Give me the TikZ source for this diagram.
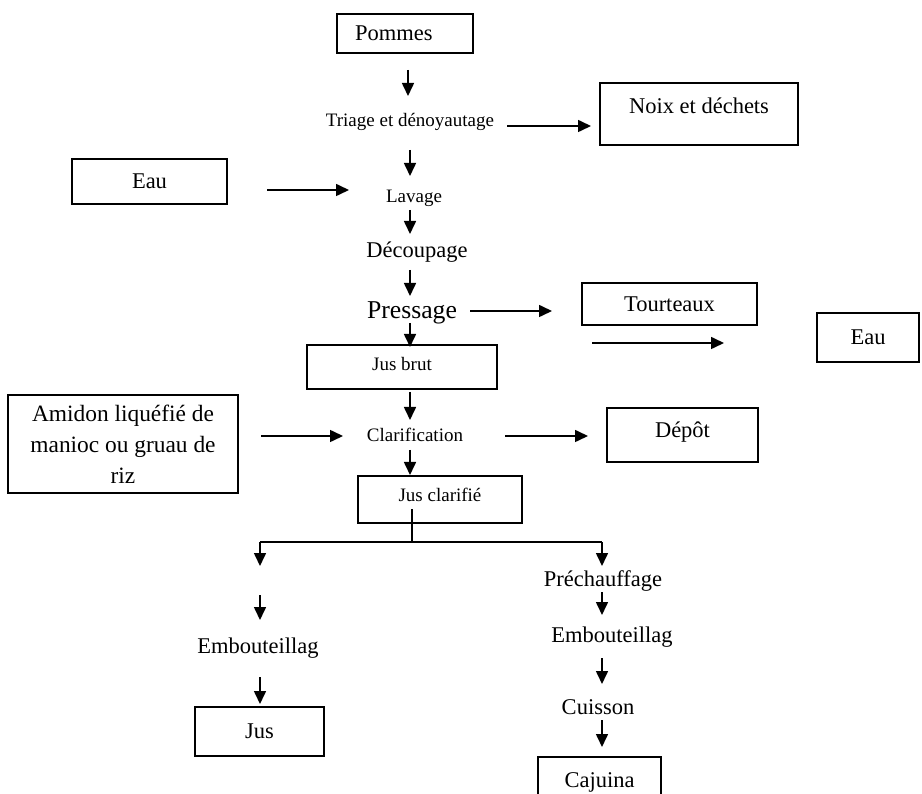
\documentclass[tikz,border=0pt]{standalone}
\usepackage{fontspec}
\setmainfont{Liberation Serif}
\usetikzlibrary{arrows.meta}
\newcommand{\fnorm}{\fontsize{22.5}{27}\selectfont}
\newcommand{\fsmall}{\fontsize{19}{22}\selectfont}
\newcommand{\fbig}{\fontsize{25.7}{30}\selectfont}
\tikzset{
  box/.style={draw=black, line width=1.3pt, inner sep=0pt, font=\fnorm},
  step txt/.style={inner sep=0pt, font=\fnorm},
  arr/.style={-{Triangle[length=13pt,width=12pt]}, line width=1.6pt},
  ln/.style={line width=1.5pt},
}
\begin{document}
\begin{tikzpicture}[x=1pt, y=-1pt]
\useasboundingbox (0,0) rectangle (922,794);
% boxes
\node[box, minimum width=136pt, minimum height=39pt, text width=100pt, align=left] (pommes) at (405,33.5) {Pommes};
\node[box, minimum width=198pt, minimum height=62pt, text depth=16pt] (noix) at (699,114) {Noix et déchets};
\node[box, minimum width=155pt, minimum height=45pt] (eauL) at (149.5,181.5) {Eau};
\node[box, minimum width=175pt, minimum height=42pt] (tourt) at (669.5,304) {Tourteaux};
\node[box, minimum width=102pt, minimum height=49pt] (eauR) at (868,337.5) {Eau};
\node[box, minimum width=190pt, minimum height=44pt, font=\fsmall, text depth=6pt] (jusbrut) at (402,367) {Jus brut};
\node[box, minimum width=230pt, minimum height=98pt, align=center, font=\fontsize{23.4}{31}\selectfont] (amidon) at (123,444) {Amidon liquéfié de\\manioc ou gruau de\\riz};
\node[box, minimum width=151pt, minimum height=54pt, text depth=10pt] (depot) at (682.5,435) {Dépôt};
\node[box, minimum width=164pt, minimum height=47pt, font=\fsmall, text depth=10pt] (jusclar) at (440,499.5) {Jus clarifié};
\node[box, minimum width=129pt, minimum height=49pt] (jus) at (259.5,731.5) {Jus};
\node[box, minimum width=123pt, minimum height=50pt] (cajuina) at (599.5,782) {Cajuina};
% steps
\node[step txt, font=\fsmall] (triage) at (410,122) {Triage et dénoyautage};
\node[step txt, font=\fsmall] (lavage) at (414,198) {Lavage};
\node[step txt] (decoup) at (417,252) {Découpage};
\node[step txt, font=\fbig] (press) at (412,313) {Pressage};
\node[step txt, font=\fsmall] (clarif) at (415,435) {Clarification};
\node[step txt] (embL) at (258,648) {Embouteillag};
\node[step txt] (prech) at (603,581) {Préchauffage};
\node[step txt] (embR) at (612,637) {Embouteillag};
\node[step txt] (cuisson) at (598,707) {Cuisson};
% arrow ends
\coordinate (pommes-out) at (408,70);
\coordinate (triage-in) at (408,96);
\coordinate (triage-out) at (410,150);
\coordinate (lavage-in) at (410,176);
\coordinate (triage-r) at (507,126);
\coordinate (noix-in) at (591,126);
\coordinate (eauL-out) at (267,190);
\coordinate (lavage-l) at (349,190);
\coordinate (lavage-out) at (410,210);
\coordinate (decoup-in) at (410,234);
\coordinate (decoup-out) at (410,270);
\coordinate (press-in) at (410,296);
\coordinate (press-r) at (470,311);
\coordinate (tourt-in) at (552,311);
\coordinate (press-out) at (410,323);
\coordinate (jusbrut-in) at (410,347);
\coordinate (eauR-a) at (592,343);
\coordinate (eauR-b) at (724,343);
\coordinate (jusbrut-out) at (410,392);
\coordinate (clarif-in) at (410,420);
\coordinate (amidon-out) at (261,436);
\coordinate (clarif-l) at (343,436);
\coordinate (clarif-r) at (505,436);
\coordinate (depot-in) at (588,436);
\coordinate (clarif-out) at (410,450);
\coordinate (jusclar-in) at (410,475);
\coordinate (jusclar-out) at (412,509);
\coordinate (split) at (412,542);
\coordinate (splitL) at (260,542);
\coordinate (splitR) at (602,542);
\coordinate (brL-in) at (260,566);
\coordinate (brR-in) at (602,566);
\coordinate (embL-a) at (260,595);
\coordinate (embL-in) at (260,620);
\coordinate (embL-out) at (260,677);
\coordinate (jus-in) at (260,704);
\coordinate (prech-out) at (602,592);
\coordinate (embR-in) at (602,615);
\coordinate (embR-out) at (602,658);
\coordinate (cuisson-in) at (602,684);
\coordinate (cuisson-out) at (602,720);
\coordinate (cajuina-in) at (602,747);
% connectors
\path[arr] (pommes-out) edge (triage-in);
\path[arr] (triage-r) edge (noix-in);
\path[arr] (triage-out) edge (lavage-in);
\path[arr] (eauL-out) edge (lavage-l);
\path[arr] (lavage-out) edge (decoup-in);
\path[arr] (decoup-out) edge (press-in);
\path[arr] (press-r) edge (tourt-in);
\path[arr] (press-out) edge (jusbrut-in);
\path[arr] (eauR-a) edge (eauR-b);
\path[arr] (jusbrut-out) edge (clarif-in);
\path[arr] (amidon-out) edge (clarif-l);
\path[arr] (clarif-r) edge (depot-in);
\path[arr] (clarif-out) edge (jusclar-in);
\draw[ln] (jusclar-out) -- (split);
\draw[ln] (splitL) -- (splitR);
\path[arr] (splitL) edge (brL-in);
\path[arr] (splitR) edge (brR-in);
\path[arr] (embL-a) edge (embL-in);
\path[arr] (embL-out) edge (jus-in);
\path[arr] (prech-out) edge (embR-in);
\path[arr] (embR-out) edge (cuisson-in);
\path[arr] (cuisson-out) edge (cajuina-in);
\end{tikzpicture}
\end{document}
